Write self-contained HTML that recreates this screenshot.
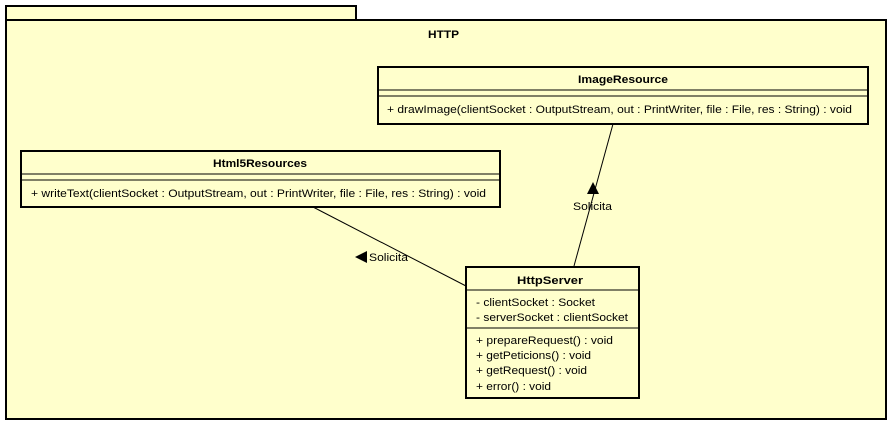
<!DOCTYPE html>
<html><head><style>
body{margin:0;background:#fff;width:893px;height:426px;overflow:hidden}
svg text{font-family:"Liberation Sans",sans-serif;font-size:11px;fill:#000}
</style></head><body>
<svg width="893" height="426" xmlns="http://www.w3.org/2000/svg">
<g fill="#ffffcc" stroke="#000" stroke-width="2">
<rect x="6" y="6" width="350" height="15"/>
<rect x="6" y="20" width="880" height="399"/>
</g>
<text x="428" y="38" font-weight="bold" textLength="31" lengthAdjust="spacingAndGlyphs">HTTP</text>
<g stroke="#000" stroke-width="1">
<line x1="313" y1="207" x2="466" y2="286"/>
<line x1="574" y1="266" x2="613" y2="124"/>
</g>
<polygon points="355,257 367,251 367,263" fill="#000"/>
<polygon points="593,182 587,194 599,194" fill="#000"/>
<text x="369" y="261" textLength="39" lengthAdjust="spacingAndGlyphs">Solicita</text>
<text x="573" y="210" textLength="39" lengthAdjust="spacingAndGlyphs">Solicita</text>
<g fill="#ffffcc" stroke="#000" stroke-width="2">
<rect x="378" y="67" width="490" height="57"/>
<rect x="21" y="151" width="479" height="56"/>
<rect x="466" y="267" width="173" height="131"/>
</g>
<g stroke="#000" stroke-width="1">
<line x1="378" y1="90" x2="868" y2="90"/><line x1="378" y1="96" x2="868" y2="96"/>
<line x1="21" y1="174" x2="500" y2="174"/><line x1="21" y1="180" x2="500" y2="180"/>
<line x1="466" y1="290" x2="639" y2="290"/><line x1="466" y1="328" x2="639" y2="328"/>
</g>
<text x="578" y="83" font-weight="bold" textLength="90" lengthAdjust="spacingAndGlyphs">ImageResource</text>
<text x="387" y="113" textLength="465" lengthAdjust="spacingAndGlyphs">+ drawImage(clientSocket : OutputStream, out : PrintWriter, file : File, res : String) : void</text>
<text x="213" y="167" font-weight="bold" textLength="94" lengthAdjust="spacingAndGlyphs">Html5Resources</text>
<text x="31" y="197" textLength="455" lengthAdjust="spacingAndGlyphs">+ writeText(clientSocket : OutputStream, out : PrintWriter, file : File, res : String) : void</text>
<text x="517" y="284" font-weight="bold" textLength="66" lengthAdjust="spacingAndGlyphs">HttpServer</text>
<text x="476" y="306" textLength="119" lengthAdjust="spacingAndGlyphs">- clientSocket : Socket</text>
<text x="476" y="321" textLength="152" lengthAdjust="spacingAndGlyphs">- serverSocket : clientSocket</text>
<text x="476" y="344" textLength="137" lengthAdjust="spacingAndGlyphs">+ prepareRequest() : void</text>
<text x="476" y="359" textLength="115" lengthAdjust="spacingAndGlyphs">+ getPeticions() : void</text>
<text x="476" y="374" textLength="111" lengthAdjust="spacingAndGlyphs">+ getRequest() : void</text>
<text x="476" y="390" textLength="75" lengthAdjust="spacingAndGlyphs">+ error() : void</text>
</svg>
</body></html>
